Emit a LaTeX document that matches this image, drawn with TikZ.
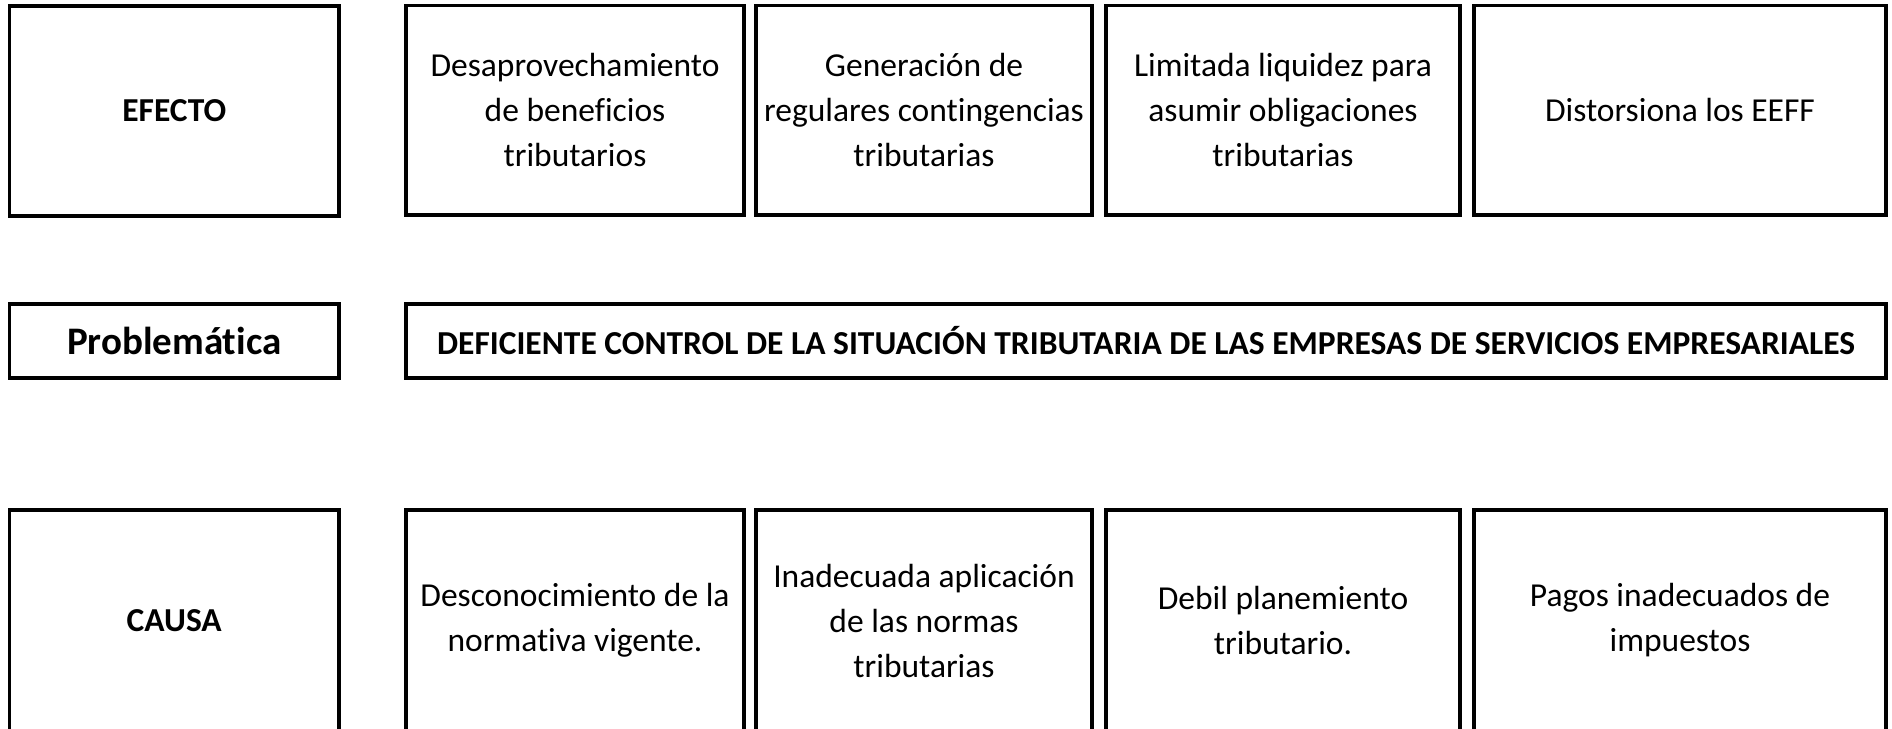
\documentclass[tikz,border=0pt]{standalone}
\usepackage{fontspec}
\setmainfont{Carlito}[Ligatures={NoCommon}]
\begin{document}
\begin{tikzpicture}[x=1pt,y=-1pt,
  cell/.style={draw=black, line width=3.8pt, rectangle, inner sep=0pt, align=center,
    font=\fontsize{33.5}{45}\selectfont},
  boldcell/.style={cell, font=\fontsize{33.5}{45}\selectfont\bfseries}]
\clip (0,0) rectangle (1892,728);
\useasboundingbox (0,0) rectangle (1892,728);
% Row 1: EFECTO
\node[boldcell, minimum width=329.5pt, minimum height=209.5pt] (efecto) at (174.25,111) {EFECTO};
\node[cell, minimum width=338pt, minimum height=209.5pt] (e1) at (575,110.25) {Desaprovechamiento\\de beneficios\\tributarios};
\node[cell, minimum width=336pt, minimum height=209.5pt] (e2) at (924,110.25) {Generación de\\regulares contingencias\\tributarias};
\node[cell, minimum width=354pt, minimum height=209.5pt] (e3) at (1283,110.25) {Limitada liquidez para\\asumir obligaciones\\tributarias};
\node[cell, minimum width=412pt, minimum height=209.5pt] (e4) at (1680,110.25) {Distorsiona los EEFF};
% Row 2: Problematica
\node[cell, minimum width=329.5pt, minimum height=74pt, font=\fontsize{39}{47}\selectfont\bfseries] (prob) at (174.25,341) {Problemática};
\node[boldcell, minimum width=1480pt, minimum height=74pt] (def) at (1146,341) {DEFICIENTE CONTROL DE LA SITUACIÓN TRIBUTARIA DE LAS EMPRESAS DE SERVICIOS EMPRESARIALES};
% Row 3: CAUSA
\node[boldcell, minimum width=329.5pt, minimum height=221pt] (causa) at (174.25,620.5) {CAUSA};
\node[cell, minimum width=338pt, minimum height=221pt] (c1) at (575,620.5) {Desconocimiento de la\\normativa vigente.};
\node[cell, minimum width=336pt, minimum height=221pt] (c2) at (924,620.5) {Inadecuada aplicación\\de las normas\\tributarias};
\node[cell, minimum width=354pt, minimum height=221pt] (c3) at (1283,620.5) {Debil planemiento\\tributario.};
\node[cell, minimum width=412pt, minimum height=221pt] (c4) at (1680,620.5) {Pagos inadecuados de\\impuestos};
\end{tikzpicture}
\end{document}
